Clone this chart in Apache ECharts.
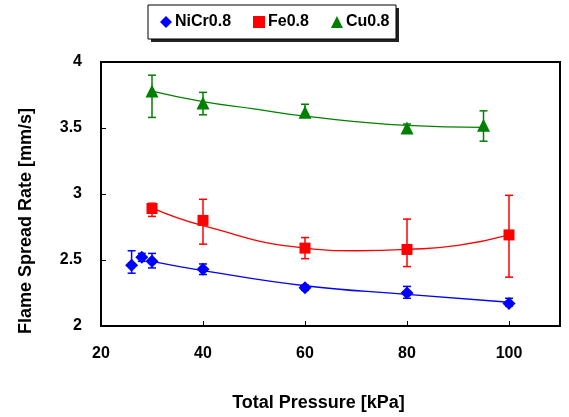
<!DOCTYPE html>
<html>
<head>
<meta charset="utf-8">
<script src="https://cdn.jsdelivr.net/npm/echarts@6/dist/echarts.min.js"></script>
<style>
  html, body { margin: 0; padding: 0; background: #fff; }
  #chart { width: 569px; height: 417px; }
</style>
</head>
<body>
<div id="chart"></div>
<script>
// measured points: [pressure, rate, errLow, errHigh]
const nicrPts = [
    [26, 2.46, 2.40, 2.57],
    [28, 2.52, 2.49, 2.55],
    [30, 2.49, 2.44, 2.55],
    [40, 2.43, 2.39, 2.47],
    [60, 2.29, 2.27, 2.31],
    [80, 2.25, 2.21, 2.30],
    [100, 2.17, 2.15, 2.21]
];
const fePts = [
    [30, 2.89, 2.83, 2.93],
    [40, 2.80, 2.62, 2.96],
    [60, 2.59, 2.51, 2.67],
    [80, 2.58, 2.45, 2.81],
    [100, 2.69, 2.37, 2.99]
];
const cuPts = [
    [30, 3.78, 3.58, 3.90],
    [40, 3.69, 3.60, 3.77],
    [60, 3.62, 3.59, 3.68],
    [80, 3.50, 3.47, 3.53],
    [95, 3.52, 3.40, 3.63]
];
// fitted curves
const nicrFit = [[30, 2.49], [40, 2.42], [60, 2.305], [80, 2.24], [100, 2.18]];
const feFit = [[30, 2.895], [40, 2.76], [60, 2.59], [70, 2.57], [80, 2.58], [90, 2.61], [100, 2.69]];
const cuFit = [[30, 3.78], [40, 3.70], [50, 3.645], [60, 3.59], [80, 3.52], [95, 3.505]];

const names = ['NiCr0.8', 'Fe0.8', 'Cu0.8'];
const colors = ['#0000ff', '#ff0000', '#008000'];
const symbols = ['diamond', 'rect', 'triangle'];
const symbolSizes = [13, 11, 13];

const font = '"Liberation Sans", Arial, sans-serif';

var myChart = echarts.init(document.getElementById('chart'));

function errorBars(pts, color) {
    return {
        type: 'custom',
        data: pts.map(p => [p[0], p[2], p[3]]),
        z: 1,
        silent: true,
        renderItem: function (params, api) {
            var lo = api.coord([api.value(0), api.value(1)]);
            var hi = api.coord([api.value(0), api.value(2)]);
            var w = 4;
            var st = {stroke: color, lineWidth: 1.5};
            return {
                type: 'group',
                children: [
                    {type: 'line', shape: {x1: lo[0], y1: lo[1], x2: hi[0], y2: hi[1]}, style: st},
                    {type: 'line', shape: {x1: lo[0] - w, y1: lo[1], x2: lo[0] + w, y2: lo[1]}, style: st},
                    {type: 'line', shape: {x1: hi[0] - w, y1: hi[1], x2: hi[0] + w, y2: hi[1]}, style: st}
                ]
            };
        }
    };
}

var allPts = [nicrPts, fePts, cuPts];
var allFits = [nicrFit, feFit, cuFit];
var series = [];
for (var i = 0; i < 3; i++) {
    series.push({
        name: names[i] + ' fit',
        type: 'line',
        data: allFits[i],
        smooth: true,
        showSymbol: false,
        lineStyle: {color: colors[i], width: 1.3},
        z: 2,
        silent: true
    });
    series.push(errorBars(allPts[i], colors[i]));
    series.push({
        name: names[i],
        type: 'scatter',
        data: allPts[i].map(p => [p[0], p[1]]),
        symbol: symbols[i],
        symbolSize: symbolSizes[i],
        itemStyle: {color: colors[i], opacity: 1},
        z: 3
    });
}

var option = {
    backgroundColor: '#fff',
    animation: false,
    textStyle: {fontFamily: font},
    // legend frame with its drop shadow
    graphic: [
        {type: 'rect', z: 0, shape: {x: 151, y: 8, width: 248, height: 34}, style: {fill: '#222'}},
        {type: 'rect', z: 1, shape: {x: 148, y: 5, width: 248, height: 34}, style: {fill: '#fff', stroke: '#000', lineWidth: 1}}
    ],
    legend: {
        data: names.map((n, i) => ({name: n, icon: symbols[i]})),
        top: 5,
        left: 148,
        width: 249,
        z: 10,
        itemWidth: 12,
        itemHeight: 12,
        itemGap: 22,
        padding: [9, 10, 9, 12],
        textStyle: {fontFamily: font, fontWeight: 'bold', fontSize: 16, color: '#000', padding: [0, 0, 0, -2]}
    },
    grid: {
        left: 101,
        right: 9,
        top: 62,
        bottom: 84,
        show: true,
        borderColor: '#000',
        borderWidth: 2,
        backgroundColor: 'transparent'
    },
    xAxis: {
        type: 'value',
        min: 20,
        max: 110,
        interval: 20,
        name: 'Total Pressure [kPa]',
        nameLocation: 'middle',
        nameGap: 68,
        nameTextStyle: {fontFamily: font, fontWeight: 'bold', fontSize: 18, color: '#000', padding: [0, 24, 0, 0]},
        axisLine: {lineStyle: {color: '#000', width: 2}},
        axisTick: {inside: true, length: 5, lineStyle: {color: '#000', width: 1}},
        splitLine: {show: false},
        axisLabel: {
            showMaxLabel: false,
            margin: 20,
            fontFamily: font, fontWeight: 'bold', fontSize: 16, color: '#000'
        }
    },
    yAxis: {
        type: 'value',
        min: 2,
        max: 4,
        interval: 0.5,
        name: 'Flame Spread Rate [mm/s]',
        nameLocation: 'middle',
        nameGap: 66,
        nameTextStyle: {fontFamily: font, fontWeight: 'bold', fontSize: 18, color: '#000', padding: [0, 54, 0, 0]},
        axisLine: {lineStyle: {color: '#000', width: 2}},
        axisTick: {inside: true, length: 5, lineStyle: {color: '#000', width: 1}},
        splitLine: {show: false},
        axisLabel: {
            margin: 19,
            fontFamily: font, fontWeight: 'bold', fontSize: 16, color: '#000'
        }
    },
    series: series
};

myChart.setOption(option);
</script>
</body>
</html>
